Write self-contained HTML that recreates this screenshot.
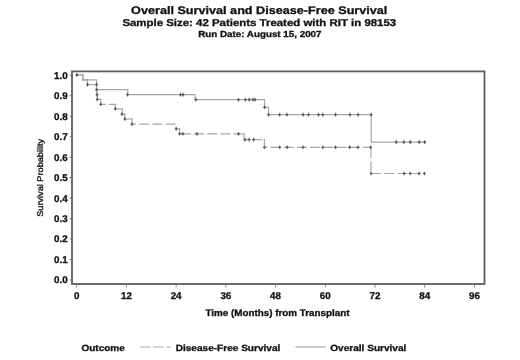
<!DOCTYPE html>
<html><head><meta charset="utf-8"><style>
html,body{margin:0;padding:0;background:#fff;}
body{width:520px;height:360px;overflow:hidden;position:relative;font-family:"Liberation Sans", sans-serif;}
svg{position:absolute;left:0;top:0;display:block;filter:blur(0.4px);}
</style></head><body>
<svg width="520" height="360" viewBox="0 0 520 360" font-family='"Liberation Sans", sans-serif' fill="#111" text-rendering="geometricPrecision"><rect x="72" y="71.4" width="412.5" height="212.6" fill="none" stroke="#5e5e5e" stroke-width="1.8"/><line x1="69.8" y1="280.00" x2="71" y2="280.00" stroke="#666" stroke-width="1.1"/><line x1="69.8" y1="259.53" x2="71" y2="259.53" stroke="#666" stroke-width="1.1"/><line x1="69.8" y1="239.06" x2="71" y2="239.06" stroke="#666" stroke-width="1.1"/><line x1="69.8" y1="218.59" x2="71" y2="218.59" stroke="#666" stroke-width="1.1"/><line x1="69.8" y1="198.12" x2="71" y2="198.12" stroke="#666" stroke-width="1.1"/><line x1="69.8" y1="177.65" x2="71" y2="177.65" stroke="#666" stroke-width="1.1"/><line x1="69.8" y1="157.18" x2="71" y2="157.18" stroke="#666" stroke-width="1.1"/><line x1="69.8" y1="136.71" x2="71" y2="136.71" stroke="#666" stroke-width="1.1"/><line x1="69.8" y1="116.24" x2="71" y2="116.24" stroke="#666" stroke-width="1.1"/><line x1="69.8" y1="95.77" x2="71" y2="95.77" stroke="#666" stroke-width="1.1"/><line x1="69.8" y1="75.30" x2="71" y2="75.30" stroke="#666" stroke-width="1.1"/><line x1="76.70" y1="285" x2="76.70" y2="287.5" stroke="#888" stroke-width="1"/><line x1="126.42" y1="285" x2="126.42" y2="287.5" stroke="#888" stroke-width="1"/><line x1="176.13" y1="285" x2="176.13" y2="287.5" stroke="#888" stroke-width="1"/><line x1="225.85" y1="285" x2="225.85" y2="287.5" stroke="#888" stroke-width="1"/><line x1="275.56" y1="285" x2="275.56" y2="287.5" stroke="#888" stroke-width="1"/><line x1="325.28" y1="285" x2="325.28" y2="287.5" stroke="#888" stroke-width="1"/><line x1="375.00" y1="285" x2="375.00" y2="287.5" stroke="#888" stroke-width="1"/><line x1="424.71" y1="285" x2="424.71" y2="287.5" stroke="#888" stroke-width="1"/><line x1="474.43" y1="285" x2="474.43" y2="287.5" stroke="#888" stroke-width="1"/><line x1="139.6" y1="347" x2="171" y2="347" stroke="#aaa" stroke-width="1.2" stroke-dasharray="10.8 2.6"/><line x1="295.4" y1="347" x2="326" y2="347" stroke="#aaa" stroke-width="1.2"/><path d="M76.8,74.9 L82.9,74.9 L82.9,79.9 L96.6,79.9 L96.6,89.7 L127.8,89.7 L127.8,94.6 L195,94.6 L195,99.6 L264.5,99.6 L264.5,107.3 L268.5,107.3 L268.5,114.6 L371.2,114.6 L371.2,142.1 L425.5,142.1" fill="none" stroke="#a6a6a6" stroke-width="1.2"/><line x1="76.8" y1="74.9" x2="82.9" y2="74.9" stroke="#a6a6a6" stroke-width="1.2" stroke-linecap="square"/><line x1="82.9" y1="74.9" x2="82.9" y2="79.9" stroke="#a6a6a6" stroke-width="1.2" stroke-linecap="square"/><line x1="82.9" y1="79.9" x2="87.5" y2="79.9" stroke="#a6a6a6" stroke-width="1.2" stroke-linecap="square"/><line x1="87.5" y1="79.9" x2="87.5" y2="84.6" stroke="#a6a6a6" stroke-width="1.2" stroke-linecap="square"/><line x1="87.5" y1="84.6" x2="96.4" y2="84.6" stroke="#a6a6a6" stroke-width="1.2" stroke-linecap="square"/><line x1="96.4" y1="84.6" x2="96.4" y2="89.7" stroke="#a6a6a6" stroke-width="1.2" stroke-linecap="square"/><line x1="96.4" y1="89.7" x2="97" y2="89.7" stroke="#a6a6a6" stroke-width="1.2" stroke-linecap="square"/><line x1="97" y1="89.7" x2="97" y2="94.6" stroke="#a6a6a6" stroke-width="1.2" stroke-linecap="square"/><line x1="97" y1="94.6" x2="97.3" y2="94.6" stroke="#a6a6a6" stroke-width="1.2" stroke-linecap="square"/><line x1="97.3" y1="94.6" x2="97.3" y2="99.4" stroke="#a6a6a6" stroke-width="1.2" stroke-linecap="square"/><line x1="97.3" y1="99.4" x2="100.7" y2="99.4" stroke="#a6a6a6" stroke-width="1.2" stroke-linecap="square"/><line x1="100.7" y1="99.4" x2="100.7" y2="104.3" stroke="#a6a6a6" stroke-width="1.2" stroke-linecap="square"/><line x1="100.7" y1="104.3" x2="115.5" y2="104.3" stroke="#a6a6a6" stroke-width="1.2" stroke-dasharray="10.0 3.2" stroke-dashoffset="5.10"/><line x1="115.5" y1="104.3" x2="115.5" y2="108.9" stroke="#a6a6a6" stroke-width="1.2" stroke-linecap="square"/><line x1="115.5" y1="108.9" x2="122.3" y2="108.9" stroke="#a6a6a6" stroke-width="1.2" stroke-linecap="square"/><line x1="122.3" y1="108.9" x2="122.3" y2="114.2" stroke="#a6a6a6" stroke-width="1.2" stroke-linecap="square"/><line x1="122.3" y1="114.2" x2="124.8" y2="114.2" stroke="#a6a6a6" stroke-width="1.2" stroke-linecap="square"/><line x1="124.8" y1="114.2" x2="124.8" y2="119" stroke="#a6a6a6" stroke-width="1.2" stroke-linecap="square"/><line x1="124.8" y1="119" x2="132" y2="119" stroke="#a6a6a6" stroke-width="1.2" stroke-linecap="square"/><line x1="132" y1="119" x2="132" y2="124.1" stroke="#a6a6a6" stroke-width="1.2" stroke-linecap="square"/><line x1="132" y1="124.1" x2="176.2" y2="124.1" stroke="#a6a6a6" stroke-width="1.2" stroke-dasharray="10.0 3.2" stroke-dashoffset="6.00"/><line x1="176.2" y1="126.8" x2="176.2" y2="128.8" stroke="#a6a6a6" stroke-width="1.2"/><line x1="176.2" y1="128.8" x2="179.6" y2="128.8" stroke="#a6a6a6" stroke-width="1.2" stroke-linecap="square"/><line x1="179.6" y1="128.8" x2="179.6" y2="133.8" stroke="#a6a6a6" stroke-width="1.2" stroke-linecap="square"/><line x1="179.6" y1="133.8" x2="244.2" y2="133.8" stroke="#a6a6a6" stroke-width="1.2" stroke-dasharray="10.0 3.2" stroke-dashoffset="12.00"/><line x1="244.2" y1="133.8" x2="244.2" y2="139.6" stroke="#a6a6a6" stroke-width="1.2" stroke-linecap="square"/><line x1="244.2" y1="139.6" x2="264.4" y2="139.6" stroke="#a6a6a6" stroke-width="1.2" stroke-dasharray="10.0 3.2" stroke-dashoffset="5.20"/><line x1="264.4" y1="139.6" x2="264.4" y2="147.3" stroke="#a6a6a6" stroke-width="1.2" stroke-linecap="square"/><line x1="264.4" y1="147.3" x2="371" y2="147.3" stroke="#a6a6a6" stroke-width="1.2" stroke-dasharray="10.0 3.2" stroke-dashoffset="7.00"/><line x1="371" y1="147.3" x2="371" y2="173.5" stroke="#a6a6a6" stroke-width="1.2" stroke-dasharray="10.0 3.2" stroke-dashoffset="12.20"/><line x1="371" y1="173.5" x2="425.5" y2="173.5" stroke="#a6a6a6" stroke-width="1.2" stroke-dasharray="10.0 3.2" stroke-dashoffset="13.10"/><path d="M75.39999999999999,74.9 h2.8 M76.8,73.10000000000001 v3.6" stroke="#6a6a6a" stroke-width="1.2"/><circle cx="76.8" cy="74.9" r="0.9" fill="#555"/><path d="M95.19999999999999,84.6 h2.8 M96.6,82.8 v3.6" stroke="#6a6a6a" stroke-width="1.2"/><circle cx="96.6" cy="84.6" r="0.9" fill="#555"/><path d="M126.1,94.6 h2.8 M127.5,92.8 v3.6" stroke="#6a6a6a" stroke-width="1.2"/><circle cx="127.5" cy="94.6" r="0.9" fill="#555"/><path d="M179.1,94.6 h2.8 M180.5,92.8 v3.6" stroke="#6a6a6a" stroke-width="1.2"/><circle cx="180.5" cy="94.6" r="0.9" fill="#555"/><path d="M181.7,94.6 h2.8 M183.1,92.8 v3.6" stroke="#6a6a6a" stroke-width="1.2"/><circle cx="183.1" cy="94.6" r="0.9" fill="#555"/><path d="M194.6,99.6 h2.8 M196,97.8 v3.6" stroke="#6a6a6a" stroke-width="1.2"/><circle cx="196" cy="99.6" r="0.9" fill="#555"/><path d="M237.1,99.6 h2.8 M238.5,97.8 v3.6" stroke="#6a6a6a" stroke-width="1.2"/><circle cx="238.5" cy="99.6" r="0.9" fill="#555"/><path d="M244.0,99.6 h2.8 M245.4,97.8 v3.6" stroke="#6a6a6a" stroke-width="1.2"/><circle cx="245.4" cy="99.6" r="0.9" fill="#555"/><path d="M247.79999999999998,99.6 h2.8 M249.2,97.8 v3.6" stroke="#6a6a6a" stroke-width="1.2"/><circle cx="249.2" cy="99.6" r="0.9" fill="#555"/><path d="M251.6,99.6 h2.8 M253,97.8 v3.6" stroke="#6a6a6a" stroke-width="1.2"/><circle cx="253" cy="99.6" r="0.9" fill="#555"/><path d="M253.6,99.6 h2.8 M255,97.8 v3.6" stroke="#6a6a6a" stroke-width="1.2"/><circle cx="255" cy="99.6" r="0.9" fill="#555"/><path d="M263.20000000000005,107.3 h2.8 M264.6,105.5 v3.6" stroke="#6a6a6a" stroke-width="1.2"/><circle cx="264.6" cy="107.3" r="0.9" fill="#555"/><path d="M267.1,114.6 h2.8 M268.5,112.8 v3.6" stroke="#6a6a6a" stroke-width="1.2"/><circle cx="268.5" cy="114.6" r="0.9" fill="#555"/><path d="M278.20000000000005,114.6 h2.8 M279.6,112.8 v3.6" stroke="#6a6a6a" stroke-width="1.2"/><circle cx="279.6" cy="114.6" r="0.9" fill="#555"/><path d="M285.5,114.6 h2.8 M286.9,112.8 v3.6" stroke="#6a6a6a" stroke-width="1.2"/><circle cx="286.9" cy="114.6" r="0.9" fill="#555"/><path d="M301.70000000000005,114.6 h2.8 M303.1,112.8 v3.6" stroke="#6a6a6a" stroke-width="1.2"/><circle cx="303.1" cy="114.6" r="0.9" fill="#555"/><path d="M307.1,114.6 h2.8 M308.5,112.8 v3.6" stroke="#6a6a6a" stroke-width="1.2"/><circle cx="308.5" cy="114.6" r="0.9" fill="#555"/><path d="M317.1,114.6 h2.8 M318.5,112.8 v3.6" stroke="#6a6a6a" stroke-width="1.2"/><circle cx="318.5" cy="114.6" r="0.9" fill="#555"/><path d="M321.40000000000003,114.6 h2.8 M322.8,112.8 v3.6" stroke="#6a6a6a" stroke-width="1.2"/><circle cx="322.8" cy="114.6" r="0.9" fill="#555"/><path d="M334.1,114.6 h2.8 M335.5,112.8 v3.6" stroke="#6a6a6a" stroke-width="1.2"/><circle cx="335.5" cy="114.6" r="0.9" fill="#555"/><path d="M348.6,114.6 h2.8 M350,112.8 v3.6" stroke="#6a6a6a" stroke-width="1.2"/><circle cx="350" cy="114.6" r="0.9" fill="#555"/><path d="M356.70000000000005,114.6 h2.8 M358.1,112.8 v3.6" stroke="#6a6a6a" stroke-width="1.2"/><circle cx="358.1" cy="114.6" r="0.9" fill="#555"/><path d="M369.8,114.6 h2.8 M371.2,112.8 v3.6" stroke="#6a6a6a" stroke-width="1.2"/><circle cx="371.2" cy="114.6" r="0.9" fill="#555"/><path d="M394.90000000000003,142.1 h2.8 M396.3,140.29999999999998 v3.6" stroke="#6a6a6a" stroke-width="1.2"/><circle cx="396.3" cy="142.1" r="0.9" fill="#555"/><path d="M402.40000000000003,142.1 h2.8 M403.8,140.29999999999998 v3.6" stroke="#6a6a6a" stroke-width="1.2"/><circle cx="403.8" cy="142.1" r="0.9" fill="#555"/><path d="M408.90000000000003,142.1 h2.8 M410.3,140.29999999999998 v3.6" stroke="#6a6a6a" stroke-width="1.2"/><circle cx="410.3" cy="142.1" r="0.9" fill="#555"/><path d="M417.90000000000003,142.1 h2.8 M419.3,140.29999999999998 v3.6" stroke="#6a6a6a" stroke-width="1.2"/><circle cx="419.3" cy="142.1" r="0.9" fill="#555"/><path d="M423.3,142.1 h2.8 M424.7,140.29999999999998 v3.6" stroke="#6a6a6a" stroke-width="1.2"/><circle cx="424.7" cy="142.1" r="0.9" fill="#555"/><path d="M86.1,84.6 h2.8 M87.5,82.8 v3.6" stroke="#6a6a6a" stroke-width="1.2"/><circle cx="87.5" cy="84.6" r="0.9" fill="#555"/><path d="M95.19999999999999,89.7 h2.8 M96.6,87.9 v3.6" stroke="#6a6a6a" stroke-width="1.2"/><circle cx="96.6" cy="89.7" r="0.9" fill="#555"/><path d="M95.6,94.6 h2.8 M97,92.8 v3.6" stroke="#6a6a6a" stroke-width="1.2"/><circle cx="97" cy="94.6" r="0.9" fill="#555"/><path d="M95.89999999999999,99.4 h2.8 M97.3,97.60000000000001 v3.6" stroke="#6a6a6a" stroke-width="1.2"/><circle cx="97.3" cy="99.4" r="0.9" fill="#555"/><path d="M99.3,104.3 h2.8 M100.7,102.5 v3.6" stroke="#6a6a6a" stroke-width="1.2"/><circle cx="100.7" cy="104.3" r="0.9" fill="#555"/><path d="M113.89999999999999,108.8 h2.8 M115.3,107.0 v3.6" stroke="#6a6a6a" stroke-width="1.2"/><circle cx="115.3" cy="108.8" r="0.9" fill="#555"/><path d="M120.6,114.2 h2.8 M122,112.4 v3.6" stroke="#6a6a6a" stroke-width="1.2"/><circle cx="122" cy="114.2" r="0.9" fill="#555"/><path d="M123.39999999999999,119 h2.8 M124.8,117.2 v3.6" stroke="#6a6a6a" stroke-width="1.2"/><circle cx="124.8" cy="119" r="0.9" fill="#555"/><path d="M130.6,124.1 h2.8 M132,122.3 v3.6" stroke="#6a6a6a" stroke-width="1.2"/><circle cx="132" cy="124.1" r="0.9" fill="#555"/><path d="M174.79999999999998,128.8 h2.8 M176.2,127.00000000000001 v3.6" stroke="#6a6a6a" stroke-width="1.2"/><circle cx="176.2" cy="128.8" r="0.9" fill="#555"/><path d="M178.2,133.8 h2.8 M179.6,132.0 v3.6" stroke="#6a6a6a" stroke-width="1.2"/><circle cx="179.6" cy="133.8" r="0.9" fill="#555"/><path d="M181.4,133.8 h2.8 M182.8,132.0 v3.6" stroke="#6a6a6a" stroke-width="1.2"/><circle cx="182.8" cy="133.8" r="0.9" fill="#555"/><path d="M195.5,133.8 h2.8 M196.9,132.0 v3.6" stroke="#6a6a6a" stroke-width="1.2"/><circle cx="196.9" cy="133.8" r="0.9" fill="#555"/><path d="M237.1,133.8 h2.8 M238.5,132.0 v3.6" stroke="#6a6a6a" stroke-width="1.2"/><circle cx="238.5" cy="133.8" r="0.9" fill="#555"/><path d="M243.5,139.6 h2.8 M244.9,137.79999999999998 v3.6" stroke="#6a6a6a" stroke-width="1.2"/><circle cx="244.9" cy="139.6" r="0.9" fill="#555"/><path d="M247.79999999999998,139.6 h2.8 M249.2,137.79999999999998 v3.6" stroke="#6a6a6a" stroke-width="1.2"/><circle cx="249.2" cy="139.6" r="0.9" fill="#555"/><path d="M252.2,139.6 h2.8 M253.6,137.79999999999998 v3.6" stroke="#6a6a6a" stroke-width="1.2"/><circle cx="253.6" cy="139.6" r="0.9" fill="#555"/><path d="M263.0,147.3 h2.8 M264.4,145.5 v3.6" stroke="#6a6a6a" stroke-width="1.2"/><circle cx="264.4" cy="147.3" r="0.9" fill="#555"/><path d="M278.3,147.3 h2.8 M279.7,145.5 v3.6" stroke="#6a6a6a" stroke-width="1.2"/><circle cx="279.7" cy="147.3" r="0.9" fill="#555"/><path d="M285.8,147.3 h2.8 M287.2,145.5 v3.6" stroke="#6a6a6a" stroke-width="1.2"/><circle cx="287.2" cy="147.3" r="0.9" fill="#555"/><path d="M301.6,147.3 h2.8 M303,145.5 v3.6" stroke="#6a6a6a" stroke-width="1.2"/><circle cx="303" cy="147.3" r="0.9" fill="#555"/><path d="M321.40000000000003,147.3 h2.8 M322.8,145.5 v3.6" stroke="#6a6a6a" stroke-width="1.2"/><circle cx="322.8" cy="147.3" r="0.9" fill="#555"/><path d="M334.1,147.3 h2.8 M335.5,145.5 v3.6" stroke="#6a6a6a" stroke-width="1.2"/><circle cx="335.5" cy="147.3" r="0.9" fill="#555"/><path d="M348.20000000000005,147.3 h2.8 M349.6,145.5 v3.6" stroke="#6a6a6a" stroke-width="1.2"/><circle cx="349.6" cy="147.3" r="0.9" fill="#555"/><path d="M356.5,147.3 h2.8 M357.9,145.5 v3.6" stroke="#6a6a6a" stroke-width="1.2"/><circle cx="357.9" cy="147.3" r="0.9" fill="#555"/><path d="M369.20000000000005,147.3 h2.8 M370.6,145.5 v3.6" stroke="#6a6a6a" stroke-width="1.2"/><circle cx="370.6" cy="147.3" r="0.9" fill="#555"/><path d="M369.70000000000005,173.5 h2.8 M371.1,171.7 v3.6" stroke="#6a6a6a" stroke-width="1.2"/><circle cx="371.1" cy="173.5" r="0.9" fill="#555"/><path d="M402.8,173.5 h2.8 M404.2,171.7 v3.6" stroke="#6a6a6a" stroke-width="1.2"/><circle cx="404.2" cy="173.5" r="0.9" fill="#555"/><path d="M408.8,173.5 h2.8 M410.2,171.7 v3.6" stroke="#6a6a6a" stroke-width="1.2"/><circle cx="410.2" cy="173.5" r="0.9" fill="#555"/><path d="M417.70000000000005,173.5 h2.8 M419.1,171.7 v3.6" stroke="#6a6a6a" stroke-width="1.2"/><circle cx="419.1" cy="173.5" r="0.9" fill="#555"/><path d="M423.0,173.5 h2.8 M424.4,171.7 v3.6" stroke="#6a6a6a" stroke-width="1.2"/><circle cx="424.4" cy="173.5" r="0.9" fill="#555"/><text x="131.1" y="13.6" font-size="11" font-weight="bold" text-anchor="start" textLength="256.3" lengthAdjust="spacingAndGlyphs" stroke="#111" stroke-width="0.3" >Overall Survival and Disease-Free Survival</text><text x="122.4" y="25.9" font-size="9.9" font-weight="bold" text-anchor="start" textLength="273.8" lengthAdjust="spacingAndGlyphs" stroke="#111" stroke-width="0.3" >Sample Size: 42 Patients Treated with RIT in 98153</text><text x="198.2" y="36.5" font-size="8.7" font-weight="bold" text-anchor="start" textLength="123.3" lengthAdjust="spacingAndGlyphs" stroke="#111" stroke-width="0.3" >Run Date: August 15, 2007</text><text x="67.6" y="283" font-size="9.8" font-weight="bold" text-anchor="end" stroke="#111" stroke-width="0.3" >0.0</text><text x="67.6" y="263" font-size="9.8" font-weight="bold" text-anchor="end" stroke="#111" stroke-width="0.3" >0.1</text><text x="67.6" y="242" font-size="9.8" font-weight="bold" text-anchor="end" stroke="#111" stroke-width="0.3" >0.2</text><text x="67.6" y="222" font-size="9.8" font-weight="bold" text-anchor="end" stroke="#111" stroke-width="0.3" >0.3</text><text x="67.6" y="202" font-size="9.8" font-weight="bold" text-anchor="end" stroke="#111" stroke-width="0.3" >0.4</text><text x="67.6" y="181" font-size="9.8" font-weight="bold" text-anchor="end" stroke="#111" stroke-width="0.3" >0.5</text><text x="67.6" y="161" font-size="9.8" font-weight="bold" text-anchor="end" stroke="#111" stroke-width="0.3" >0.6</text><text x="67.6" y="140" font-size="9.8" font-weight="bold" text-anchor="end" stroke="#111" stroke-width="0.3" >0.7</text><text x="67.6" y="120" font-size="9.8" font-weight="bold" text-anchor="end" stroke="#111" stroke-width="0.3" >0.8</text><text x="67.6" y="99" font-size="9.8" font-weight="bold" text-anchor="end" stroke="#111" stroke-width="0.3" >0.9</text><text x="67.6" y="79" font-size="9.8" font-weight="bold" text-anchor="end" stroke="#111" stroke-width="0.3" >1.0</text><text x="76.7" y="299" font-size="9.8" font-weight="bold" text-anchor="middle" stroke="#111" stroke-width="0.3" >0</text><text x="126.416" y="299" font-size="9.8" font-weight="bold" text-anchor="middle" stroke="#111" stroke-width="0.3" >12</text><text x="176.132" y="299" font-size="9.8" font-weight="bold" text-anchor="middle" stroke="#111" stroke-width="0.3" >24</text><text x="225.848" y="299" font-size="9.8" font-weight="bold" text-anchor="middle" stroke="#111" stroke-width="0.3" >36</text><text x="275.56399999999996" y="299" font-size="9.8" font-weight="bold" text-anchor="middle" stroke="#111" stroke-width="0.3" >48</text><text x="325.28" y="299" font-size="9.8" font-weight="bold" text-anchor="middle" stroke="#111" stroke-width="0.3" >60</text><text x="374.996" y="299" font-size="9.8" font-weight="bold" text-anchor="middle" stroke="#111" stroke-width="0.3" >72</text><text x="424.712" y="299" font-size="9.8" font-weight="bold" text-anchor="middle" stroke="#111" stroke-width="0.3" >84</text><text x="474.42799999999994" y="299" font-size="9.8" font-weight="bold" text-anchor="middle" stroke="#111" stroke-width="0.3" >96</text><text x="205.4" y="315.6" font-size="9.4" font-weight="bold" text-anchor="start" textLength="144.2" lengthAdjust="spacingAndGlyphs" stroke="#111" stroke-width="0.3" >Time (Months) from Transplant</text><text transform="translate(42.9,216.8) rotate(-90)" font-size="8.3" font-weight="normal" stroke="#111" stroke-width="0.35" textLength="78" lengthAdjust="spacingAndGlyphs">Survival Probability</text><text x="81.5" y="351" font-size="9.0" font-weight="bold" text-anchor="start" textLength="43.2" lengthAdjust="spacingAndGlyphs" stroke="#111" stroke-width="0.3" >Outcome</text><text x="175.7" y="351" font-size="9.0" font-weight="bold" text-anchor="start" textLength="104.6" lengthAdjust="spacingAndGlyphs" stroke="#111" stroke-width="0.3" >Disease-Free Survival</text><text x="330.2" y="351" font-size="9.0" font-weight="bold" text-anchor="start" textLength="76.2" lengthAdjust="spacingAndGlyphs" stroke="#111" stroke-width="0.3" >Overall Survival</text></svg>
</body></html>
